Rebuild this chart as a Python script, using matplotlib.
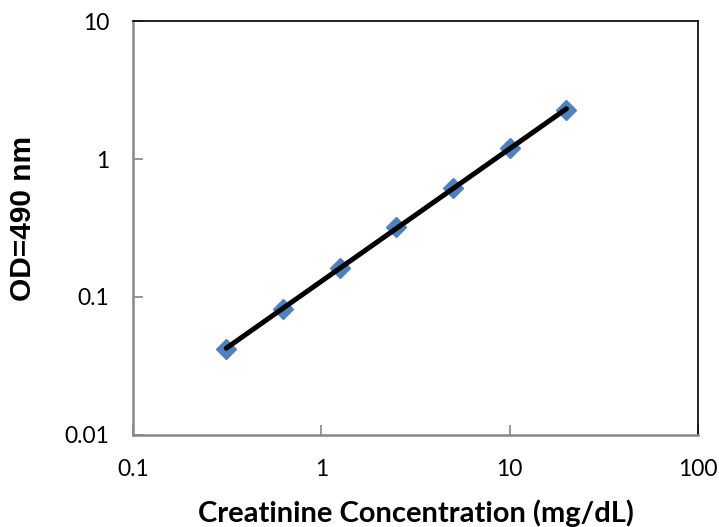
import numpy as np
import matplotlib.pyplot as plt

# standard curve data
conc = [0.3125, 0.625, 1.25, 2.5, 5, 10, 20]
od = [0.042, 0.082, 0.162, 0.32, 0.62, 1.2, 2.25]

x_ticks = [0.1, 1, 10, 100]
x_labels = ['0.1', '1', '10', '100']
y_ticks = [0.01, 0.1, 1, 10]
y_labels = ['0.01', '0.1', '1', '10']

fig = plt.figure(figsize=(7.19, 5.27), dpi=100)
ax = fig.add_axes([0.185, 0.1746, 0.786, 0.7855])

ax.set_xscale('log')
ax.set_yscale('log')
ax.set_xlim(0.1, 100)
ax.set_ylim(0.01, 10)

# power trendline fitted in log space
slope, icpt = np.polyfit(np.log10(conc), np.log10(od), 1)
xf = np.array([conc[0], conc[-1]])
yf = 10 ** (icpt + slope * np.log10(xf))

ax.plot(conc, od, linestyle='none', marker='D', markersize=10,
        color='#4F81BD', zorder=2)
ax.plot(xf, yf, color='black', linewidth=3.6, solid_capstyle='round', zorder=3)

ax.set_xticks(x_ticks)
ax.set_xticklabels(x_labels)
ax.set_yticks(y_ticks)
ax.set_yticklabels(y_labels)
ax.minorticks_off()
ax.tick_params(direction='in', length=7, width=1.2, color='#888888',
               labelsize=16.5, pad=17)
for lab in ax.get_xticklabels() + ax.get_yticklabels():
    lab.set_fontfamily('Lato')

for s in ['left', 'bottom']:
    ax.spines[s].set_color('#888888')
    ax.spines[s].set_linewidth(1.8)
for s in ['top', 'right']:
    ax.spines[s].set_color('black')
    ax.spines[s].set_linewidth(1.2)

fig.text(416 / 719, 1 - 513 / 527, 'Creatinine Concentration (mg/dL)',
         fontsize=21, fontweight='bold', fontfamily='Lato',
         ha='center', va='center')
fig.text(23 / 719, 1 - 218 / 527, 'OD=490 nm', rotation=90,
         fontsize=21.5, fontweight='bold', fontfamily='Liberation Sans',
         ha='center', va='center')

fig.savefig('out.png', dpi=100)
